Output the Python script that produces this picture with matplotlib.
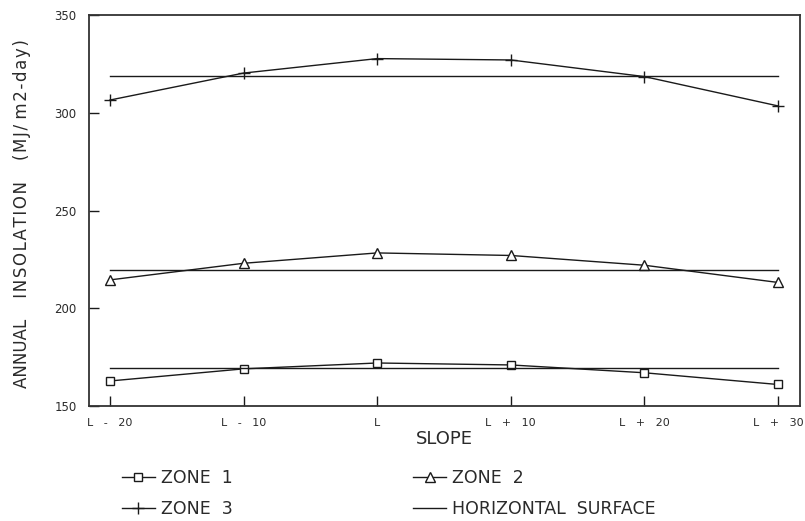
import matplotlib
matplotlib.use("Agg")
import matplotlib.pyplot as plt
import numpy as np

slope_labels = ["L   -   20", "L   -   10", "L", "L   +   10", "L   +   20", "L   +   30"]
zone1 = [162.8, 169.0, 172.0, 171.0, 167.0, 161.0]
zone2 = [214.5, 223.0, 228.3, 227.0, 222.0, 213.2]
zone3 = [306.5, 320.3, 327.7, 327.0, 318.5, 303.5]
horiz1 = 169.2
horiz2 = 219.8
horiz3 = 318.8
y_ticks = [150, 200, 250, 300, 350]

ink = "#1a1a1a"
txt = "#2a2a2a"
x = np.arange(len(slope_labels))

fig = plt.figure(figsize=(8.05, 5.21), dpi=100)
ax = fig.add_axes([89/805, 1-406/521, (800-89)/805, (406-15)/521])

l1, = ax.plot(x, zone1, color=ink, lw=1.0, marker="s", ms=6, mfc="white", mec=ink, mew=1.0, label="ZONE 1")
l2, = ax.plot(x, zone2, color=ink, lw=1.0, marker="^", ms=6.5, mfc="white", mec=ink, mew=1.0, label="ZONE 2")
l3, = ax.plot(x, zone3, color=ink, lw=1.0, marker="+", ms=8, mec=ink, mew=1.0, label="ZONE 3")
for h in (horiz1, horiz2, horiz3):
    lh, = ax.plot([x[0], x[-1]], [h, h], color=ink, lw=1.0, label="HORIZONTAL SURFACE")

ax.set_xlim(-0.157, 5.165)
ax.set_ylim(150, 350)
ax.set_xticks(x)
ax.set_xticklabels(slope_labels, fontsize=8, color=txt)
ax.set_yticks(y_ticks)
ax.set_yticklabels([str(v) for v in y_ticks], fontsize=8.5, color=txt)
ax.tick_params(axis="both", direction="in", length=7, width=1.0, colors=ink, labelcolor=txt, pad=9)
ax.tick_params(axis="x", pad=9)
for s in ax.spines.values():
    s.set_color("#333333")
    s.set_linewidth(1.3)

hair = "\u200a"
ylabel = "ANNUAL" + "    " + hair.join("INSOLATION") + "    " + hair.join("(MJ/") + " " + hair.join("m2-day)")
ax.set_xlabel("SLOPE", fontsize=13, color=txt, labelpad=1)
ax.set_ylabel(ylabel, fontsize=12, color=txt)
ax.yaxis.set_label_coords(-0.081, 0.492)

leg = fig.legend([l1, l3, l2, lh], ["ZONE  1", "ZONE  3", "ZONE  2", "HORIZONTAL  SURFACE"],
                 ncol=2, loc="upper left", bbox_to_anchor=(115/805, 1-462/521),
                 frameon=False, fontsize=12.5, handlelength=1.9, handletextpad=0.35,
                 columnspacing=10.4, labelspacing=0.75, borderaxespad=0)
for t in leg.get_texts():
    t.set_color(txt)

fig.savefig("out.png", dpi=100)
